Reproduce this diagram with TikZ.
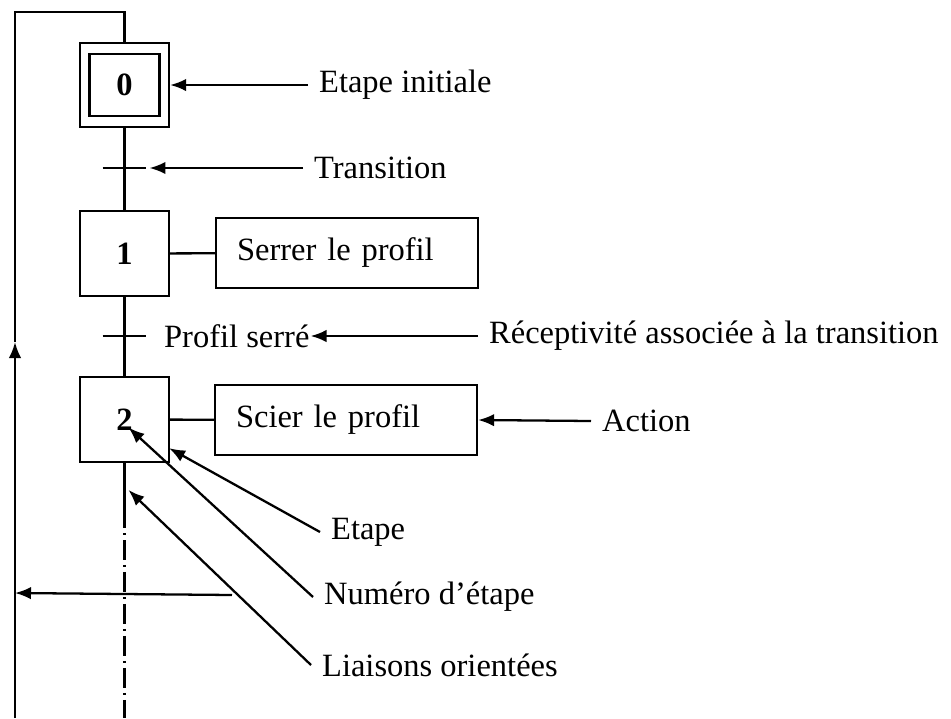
\documentclass[tikz,border=0pt]{standalone}
\usepackage{fontspec}
\setmainfont{Liberation Serif}
\usetikzlibrary{arrows.meta, positioning, calc}

\begin{document}
\begin{tikzpicture}[x=0.02cm, y=-0.02cm, line width=1.3pt,
            etape/.style={draw, rectangle, minimum width=1.78cm, minimum height=1.70cm, font=\fontsize{18.5}{21}\selectfont\bfseries},
            action/.style={draw, rectangle, minimum width=5.24cm, minimum height=1.4cm, text width=4.4cm, inner xsep=0.42cm, align=left, font=\fontsize{18.5}{21}\selectfont},
            lbl/.style={anchor=west, inner xsep=0.2cm, font=\fontsize{18.5}{21}\selectfont},
            fleche/.style={-{Latex[length=0.32cm, width=0.25cm]}}
        ]
            \useasboundingbox (0,0) rectangle (951,718);

            \node[etape, minimum height=1.68cm] (e0) at (124.5,85) {};
            \node[etape, minimum width=1.4cm, minimum height=1.24cm] (e0i) at (e0) {0};
            \node[etape] (e1) at (124.5,253.5) {1};
            \node[etape] (e2) at (124.5,419.5) {2};
            \node[action] (a1) at (347,253) {Serrer le profil};
            \node[action] (a2) at (346,420) {Scier le profil};

            \coordinate (t1) at (124.5,168);
            \coordinate (t2) at (124.5,336);
            \coordinate (s2) at (124.5,508);
            \coordinate (fin) at (124.5,718);
            \coordinate (haut) at (15,12);
            \coordinate (bas) at (15,718);
            \coordinate (fl) at (15,342);
            \coordinate (ret) at (232,595);
            \coordinate (retg) at (15,593);

            \draw (e0) -- (e1);
            \draw (e1) -- (e2);
            \draw (e1) -- (a1);
            \draw (e2) -- (a2);
            \draw ([xshift=-0.44cm]t1) -- ([xshift=0.44cm]t1);
            \draw ([xshift=-0.44cm]t2) -- ([xshift=0.44cm]t2);
            \draw (e2) -- (s2);
            \draw[dash pattern=on 0.4cm off 0.1cm on 0.04cm off 0.1cm] (s2) -- (fin);
            \draw (e0.north) |- (haut) -- (fl);
            \draw[fleche] (bas) -- (fl);
            \draw[fleche] (ret) -- (retg);

            \node[lbl] (li) at (308,85) {Etape initiale};
            \node[lbl] (lt) at (303,168) {Transition};
            \node[lbl, inner xsep=0pt] (lps) at (163,336) {Profil serré};
            \node[lbl] (lr) at (478,336) {Réceptivité associée à la transition};
            \node[lbl] (la) at (591,421) {Action};
            \node[lbl] (le) at (320,532) {Etape};
            \node[lbl] (ln) at (313,597) {Numéro d’étape};
            \node[lbl] (ll) at (311,665) {Liaisons orientées};

            \draw[fleche] (li.west) -- (e0.east);
            \draw[fleche] (lt.west) -- ([xshift=0.5cm]t1);
            \draw[fleche] (lr.west) -- (lps.east);
            \draw[fleche] (la.west) -- (a2.east);
            \draw[fleche] (le.west) -- ($(e2.south east)+(-1,-15)$);
            \draw[fleche] (ln.west) -- ($(e2.center)+(4,8)$);
            \draw[fleche] (ll.west) -- ($(s2)+(4,-18)$);
        \end{tikzpicture}
\end{document}
